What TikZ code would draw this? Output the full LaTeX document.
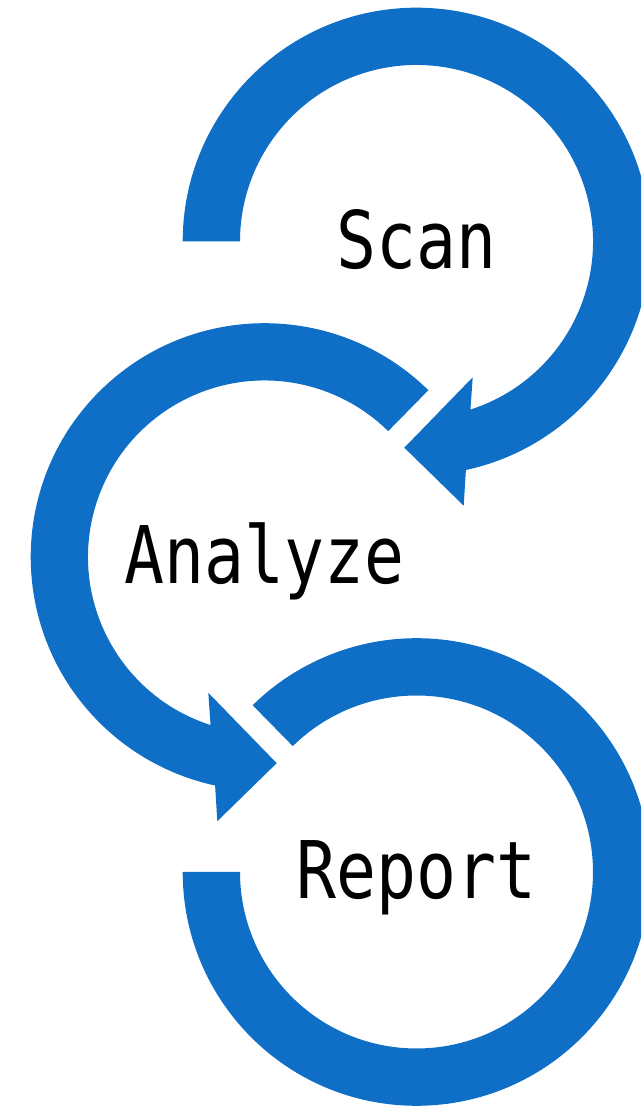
\documentclass[tikz,border=0pt]{standalone}
\usepackage{fontspec}
\newfontfamily\lblfont[FakeStretch=0.835]{DejaVu Sans Mono}
\definecolor{cycleblue}{HTML}{0F6FC6}
\tikzset{
  ring/.style={fill=cycleblue},
  lbl/.style={font=\lblfont\fontsize{79.5}{80}\selectfont, anchor=base, inner sep=0pt, yshift=-27pt}
}
\begin{document}
\begin{tikzpicture}[x=1pt,y=1pt]
\useasboundingbox (0,0) rectangle (641,1107);
\clip (0,0) rectangle (641,1107);
\coordinate (scan) at (416.5,865.5);
\coordinate (analyze) at (264.5,550);
\coordinate (report) at (416.5,235);
% scan ring, clockwise, head at the bottom
\fill[ring, shift={(scan)}] (180:233.8) arc[start angle=180, end angle=-77.8, radius=233.8]
  -- (47.2,-264.2) -- (-12.2,-206.2) -- (56.2,-135.8)
  -- (-72.2:176.5) arc[start angle=-72.2, end angle=180, radius=176.5] -- cycle;
% analyze ring, anticlockwise
\fill[ring, shift={(analyze)}] (45.5:233.8) arc[start angle=45.5, end angle=257.8, radius=233.8]
  -- (-47.2,-264.2) -- (12.2,-206.2) -- (-56.2,-135.8)
  -- (252.2:176.5) arc[start angle=252.2, end angle=45.5, radius=176.5] -- cycle;
% report ring, no head
\fill[ring, shift={(report)}] (180:233.8) arc[start angle=180, end angle=494.5, radius=233.8]
  -- (134.5:176.5) arc[start angle=494.5, end angle=180, radius=176.5] -- cycle;
\node[lbl] (scanlbl) at (scan) {Scan};
\node[lbl] (analyzelbl) at (analyze) {Analyze};
\node[lbl] (reportlbl) at (report) {Report};
\end{tikzpicture}
\end{document}
